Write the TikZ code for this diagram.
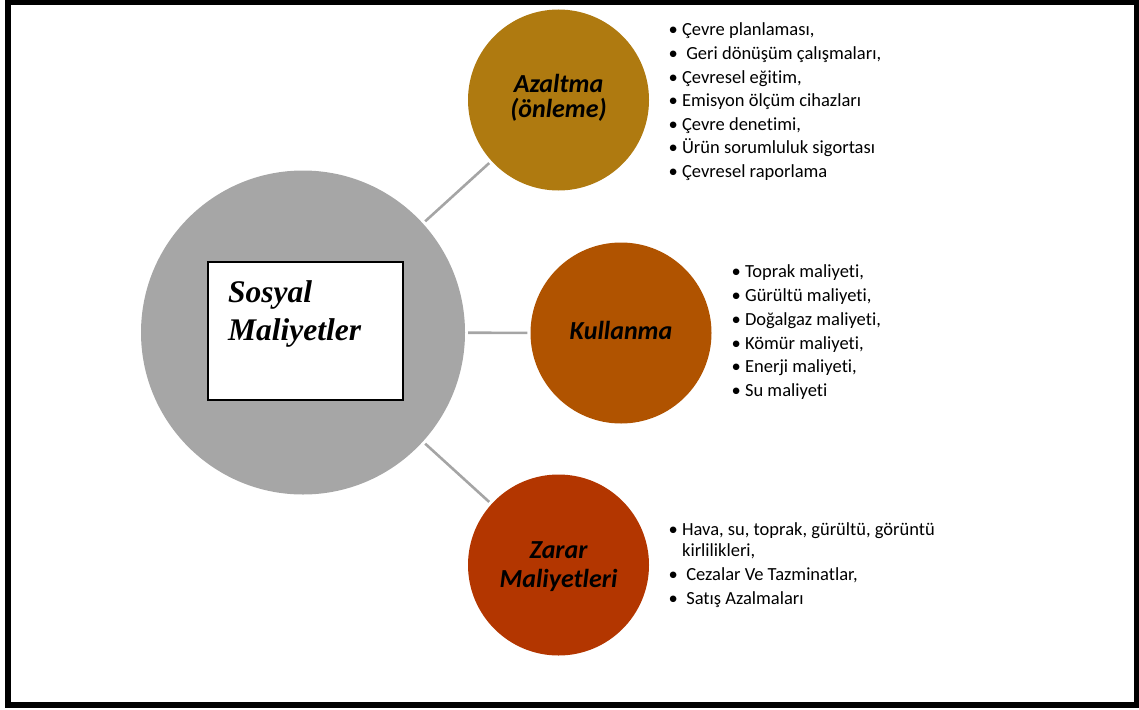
\documentclass[tikz,border=0pt]{standalone}
\usepackage{fontspec}
\setmainfont{Carlito}[RawFeature={-liga}]
\newfontfamily\timesf{Liberation Serif}
\definecolor{cgray}{HTML}{A6A6A6}
\definecolor{lgray}{HTML}{A5A5A5}
\definecolor{caz}{HTML}{AF7A10}
\definecolor{cku}{HTML}{B05300}
\definecolor{cza}{HTML}{B33600}
\begin{document}
\begin{tikzpicture}[x=1pt,y=-1pt,
  bubble/.style={circle, inner sep=0pt, minimum size=181pt},
  conn/.style={draw=lgray, line width=2.6pt, shorten <=3pt, shorten >=3pt},
  lab/.style={inner sep=0pt, anchor=base, font=\fontsize{26}{30}\selectfont\bfseries\itshape},
  li/.style={inner sep=0pt, anchor=base west, font=\fontsize{18.5}{22}\selectfont},
  soc/.style={inner sep=0pt, anchor=base west, font=\fontsize{31.5}{38}\selectfont\timesf\bfseries\itshape}
]
\useasboundingbox (0,0) rectangle (1139,709);
\draw[line width=6pt] (8,2.5) rectangle (1137,705);

\node[circle, inner sep=0pt, minimum size=324pt, fill=cgray] (S) at (303,332.5) {};
\node[bubble, fill=caz] (A) at (558.5,100) {};
\node[bubble, fill=cku] (K) at (621,333) {};
\node[bubble, fill=cza] (Z) at (558.5,565) {};

\draw[conn] (S) -- (A);
\draw[conn] (S) -- (K);
\draw[conn] (S) -- (Z);

\node[draw=black, line width=1.2pt, fill=white, inner sep=0pt, minimum width=195pt, minimum height=138pt] (box) at (305.5,331) {};
\node[soc] (s1) at (228,302) {Sosyal};
\node[soc] (s2) at (228,340) {Maliyetler};

\node[lab] (a1) at (558.5,92.7) {Azaltma};
\node[lab] (a2) at (558.5,117) {(önleme)};
\node[lab] (k1) at (621,339) {Kullanma};
\node[lab] (z1) at (558.5,558) {Zarar};
\node[lab] (z2) at (558.5,587) {Maliyetleri};

\node[li] (l1) at (668.5,36) {•\ Çevre planlaması,};
\node[li] (l2) at (668.5,59.5) {•\ \ Geri dönüşüm çalışmaları,};
\node[li] (l3) at (668.5,83) {•\ Çevresel eğitim,};
\node[li] (l4) at (668.5,106.5) {•\ Emisyon ölçüm cihazları};
\node[li] (l5) at (668.5,130) {•\ Çevre denetimi,};
\node[li] (l6) at (668.5,153.5) {•\ Ürün sorumluluk sigortası};
\node[li] (l7) at (668.5,177) {•\ Çevresel raporlama};

\node[li] (m1) at (731.5,277.7) {•\ Toprak maliyeti,};
\node[li] (m2) at (731.5,301.5) {•\ Gürültü maliyeti,};
\node[li] (m3) at (731.5,325.3) {•\ Doğalgaz maliyeti,};
\node[li] (m4) at (731.5,349.1) {•\ Kömür maliyeti,};
\node[li] (m5) at (731.5,372.9) {•\ Enerji maliyeti,};
\node[li] (m6) at (731.5,396.7) {•\ Su maliyeti};

\node[li] (n1) at (668.5,535.7) {•\ Hava, su, toprak, gürültü, görüntü};
\node[li] (n2) at (668.5,556) {\phantom{•\ }kirlilikleri,};
\node[li] (n3) at (668.5,580) {•\ \ Cezalar Ve Tazminatlar,};
\node[li] (n4) at (668.5,604) {•\ \ Satış Azalmaları};
\end{tikzpicture}
\end{document}
